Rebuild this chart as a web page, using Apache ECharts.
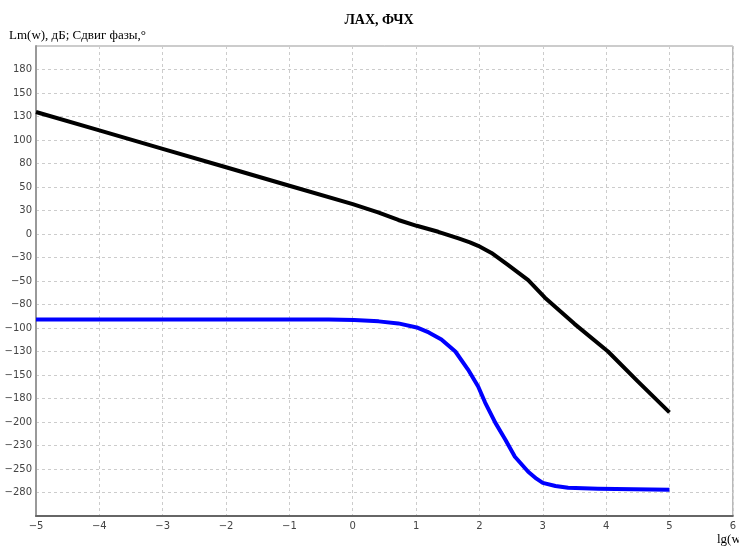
<!DOCTYPE html>
<html>
<head>
<meta charset="utf-8">
<script src="https://cdn.jsdelivr.net/npm/echarts@6/dist/echarts.min.js"></script>
<style>
  html, body { margin: 0; padding: 0; background: #fff; }
  #chart { width: 739px; height: 546px; }
</style>
</head>
<body>
<div id="chart"></div>
<script>
// lg(w) points and values
const lgW_Lm = [-5, -4, -3, -2, -1, 0, 0.4, 0.72, 1.01, 1.35, 1.67, 1.85, 1.98, 2.19, 2.45, 2.77, 3.03, 3.5, 4.03, 4.5, 5];
const lmValues = [132.4, 112.4, 92.4, 72.4, 52.4, 32.4, 23.5, 15.2, 8.9, 2.4, -4.8, -9, -12.8, -20.5, -33.5, -50, -68.9, -97.5, -127.5, -160, -193.5];

const lgW_Phase = [-5, -4, -3, -2, -1, -0.38, 0.02, 0.41, 0.72, 1.01, 1.2, 1.4, 1.62, 1.82, 1.98, 2.09, 2.25, 2.41, 2.56, 2.77, 2.9, 3.0, 3.2, 3.4, 3.87, 5];
const phaseValues = [-92.7, -92.7, -92.7, -92.7, -92.7, -92.7, -93.4, -94.8, -97, -101.4, -106.8, -114.4, -127.5, -147.1, -165.5, -182.9, -204.7, -223.2, -241.7, -258, -265.5, -270, -273.5, -275.4, -276.5, -277.6];

// axis ticks as printed on the picture
const xTicks = [-5, -4, -3, -2, -1, 0, 1, 2, 3, 4, 5, 6];
const yTickLabels = [180, 150, 130, 100, 80, 50, 30, 0, -30, -50, -80, -100, -130, -150, -180, -200, -230, -250, -280];
const yStep = 25.5;

const chart = echarts.init(document.getElementById("chart"));

const minus = s => String(s).replace("-", "\u2212");

chart.setOption({
  animation: false,
  backgroundColor: "#fff",
  title: {
    text: "ЛАХ, ФЧХ",
    left: 374,
    textAlign: "center",
    top: 8,
    textStyle: {
      fontFamily: "Liberation Serif",
      fontSize: 14,
      fontWeight: "bold",
      color: "#000"
    }
  },
  graphic: [
    {
      type: "text",
      left: 9,
      top: 29,
      style: {
        text: "Lm(w), дБ; Сдвиг фазы,°",
        font: "13px 'Liberation Serif'",
        fill: "#000"
      }
    },
    {
      type: "text",
      left: 717,
      top: 533,
      style: {
        text: "lg(w)",
        font: "13px 'Liberation Serif'",
        fill: "#000"
      }
    }
  ],
  grid: {
    left: 36,
    top: 46,
    right: 3,
    bottom: 30,
    show: true,
    borderColor: "#999",
    borderWidth: 1
  },
  xAxis: {
    type: "value",
    min: xTicks[0],
    max: xTicks[xTicks.length - 1],
    interval: 1,
    axisLine: { show: true, onZero: false, lineStyle: { color: "#666", width: 2 } },
    axisTick: { show: false },
    axisLabel: {
      margin: 5,
      fontFamily: "DejaVu Sans",
      fontSize: 10,
      color: "#444",
      formatter: v => minus(v)
    },
    splitLine: { show: true, lineStyle: { color: "#ccc", type: [3, 3] } }
  },
  yAxis: {
    type: "value",
    min: -12 * yStep,
    max: 8 * yStep,
    interval: yStep,
    axisLine: { show: true, onZero: false, lineStyle: { color: "#999", width: 2 } },
    axisTick: { show: false },
    axisLabel: {
      margin: 4,
      fontFamily: "DejaVu Sans",
      fontSize: 10,
      color: "#444",
      showMinLabel: false,
      showMaxLabel: false,
      formatter: v => {
        const idx = 7 - Math.round(v / yStep);
        return idx >= 0 && idx < yTickLabels.length ? minus(yTickLabels[idx]) : "";
      }
    },
    splitLine: { show: true, lineStyle: { color: "#ccc", type: [3, 3] } }
  },
  series: [
    {
      name: "ЛАХ",
      type: "line",
      data: lgW_Lm.map((x, i) => [x, lmValues[i]]),
      showSymbol: false,
      lineStyle: { color: "#000", width: 4, join: "round" }
    },
    {
      name: "ФЧХ",
      type: "line",
      data: lgW_Phase.map((x, i) => [x, phaseValues[i]]),
      showSymbol: false,
      lineStyle: { color: "#0000ff", width: 4, join: "round" }
    }
  ]
});
</script>
</body>
</html>
